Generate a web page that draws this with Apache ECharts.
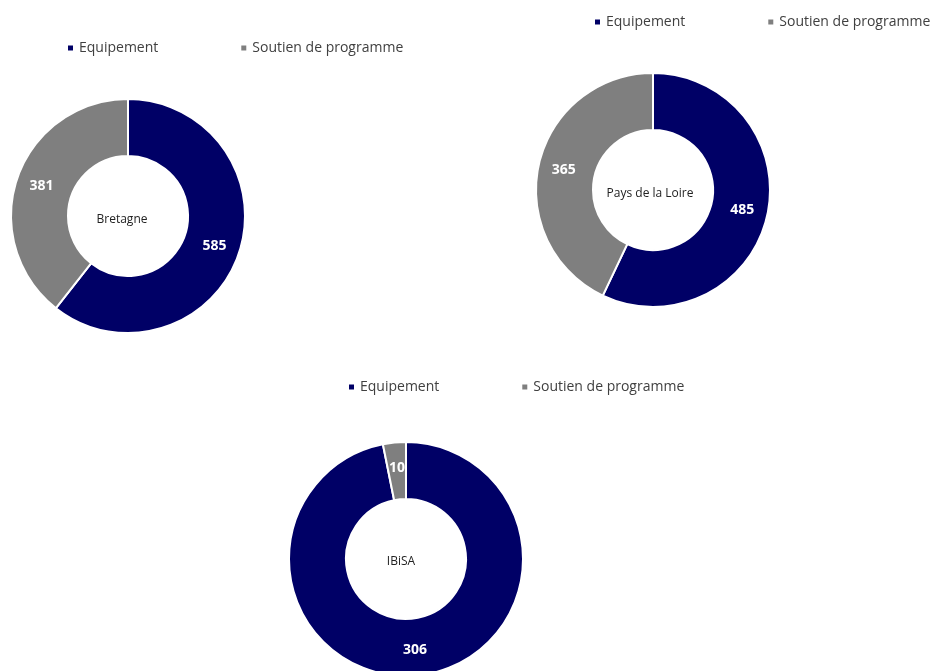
<!DOCTYPE html>
<html><head><meta charset="utf-8">
<script src="https://cdn.jsdelivr.net/npm/echarts@6/dist/echarts.min.js"></script>
<style>html,body{margin:0;padding:0;background:#fff;}#c{width:940px;height:671px;}</style>
</head><body><div id="c"></div>
<script>
const categories = ['Equipement', 'Soutien de programme'];
const regions = ['Bretagne', 'Pays de la Loire', 'IBiSA'];
const bretagneValues = [585, 381];
const paysValues = [485, 365];
const ibisaValues = [306, 10];
const colors = ['#000066', '#7F7F7F'];

const allValues = [bretagneValues, paysValues, ibisaValues];
const centers = [[128, 216], [653, 190], [406, 559]];
const labelPos = [[122, 220], [650, 194], [401, 562]];
const legendPos = [[61, 36], [588, 10], [342, 375]];

const chart = echarts.init(document.getElementById('c'));
const font = 'Open Sans';
chart.setOption({
  animation: false,
  color: colors,
  textStyle: { fontFamily: font },
  legend: legendPos.map(p => ({
    left: p[0], top: p[1], data: categories,
    icon: 'rect', itemWidth: 7, itemHeight: 7, itemGap: 81,
    textStyle: { fontFamily: font, fontSize: 14, color: '#404040' }
  })),
  graphic: regions.map((r, i) => ({
    type: 'text', x: labelPos[i][0], y: labelPos[i][1], z: 100,
    style: { text: r, align: 'center', verticalAlign: 'middle', fontFamily: font, fontSize: 12, fill: '#222' }
  })),
  series: allValues.map((vals, i) => ({
    type: 'pie',
    center: centers[i],
    radius: [60, 117],
    startAngle: 90,
    clockwise: true,
    avoidLabelOverlap: false,
    itemStyle: { borderColor: '#fff', borderWidth: 2 },
    label: { show: true, position: 'inside', formatter: '{c}', color: '#fff', fontWeight: 'bold', fontSize: 14, fontFamily: font },
    labelLine: { show: false },
    emphasis: { disabled: true },
    data: categories.map((c, j) => ({ name: c, value: vals[j] }))
  }))
});
</script></body></html>
